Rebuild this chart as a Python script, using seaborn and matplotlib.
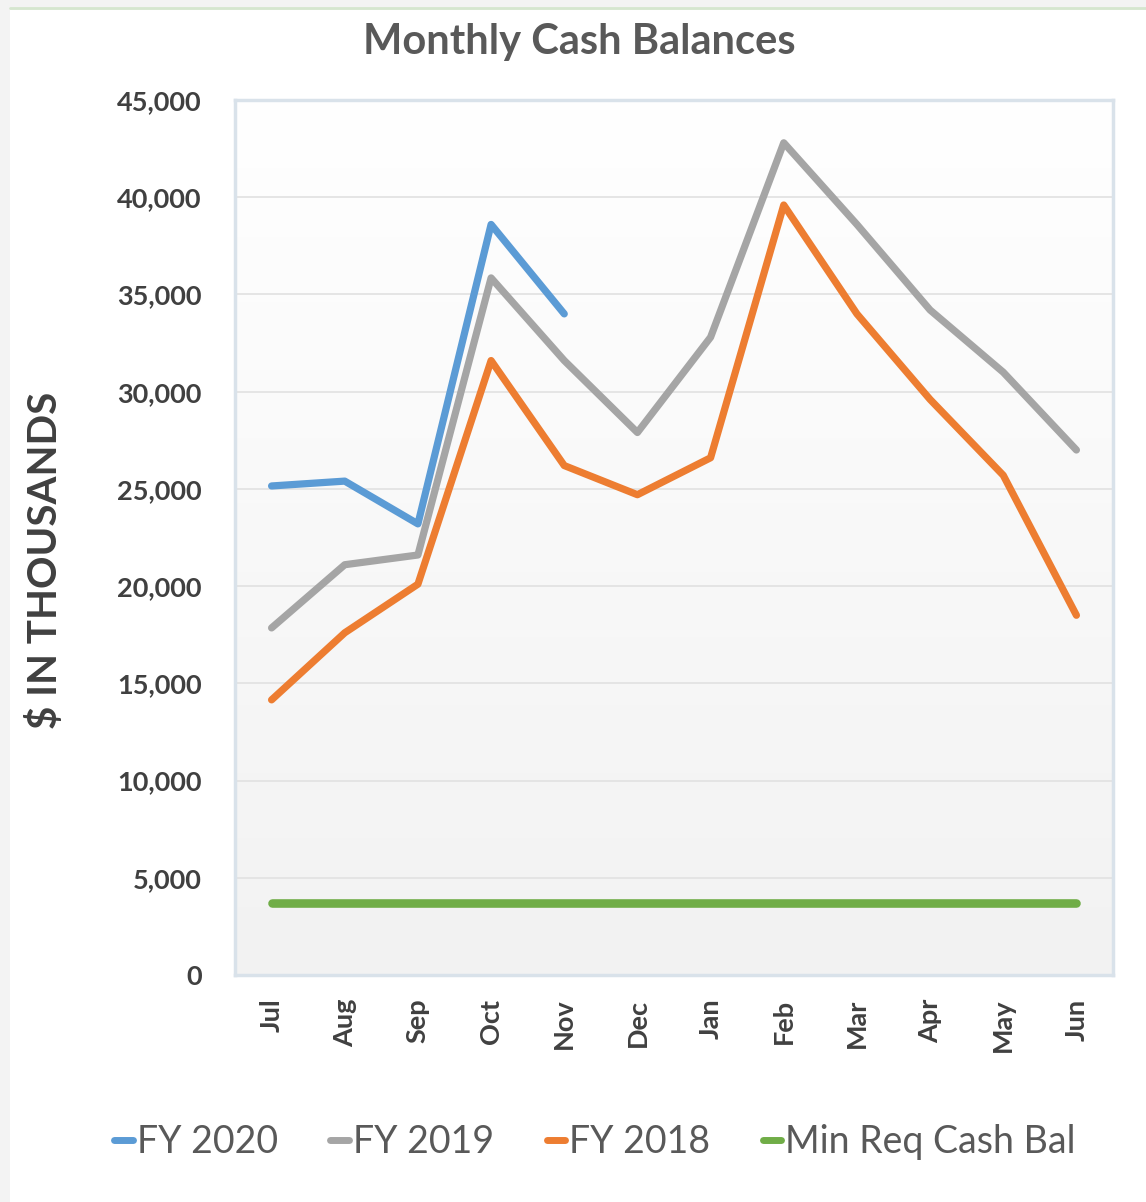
import numpy as np
import pandas as pd
import seaborn as sns
import matplotlib.pyplot as plt
from matplotlib.colors import LinearSegmentedColormap
from matplotlib.patches import Rectangle
from matplotlib.lines import Line2D
from matplotlib.ticker import FuncFormatter, MultipleLocator

# chart data, $ thousands
months = ["Jul", "Aug", "Sep", "Oct", "Nov", "Dec", "Jan", "Feb", "Mar", "Apr", "May", "Jun"]
fy2020 = [25150, 25400, 23200, 38600, 34000]
fy2019 = [17850, 21100, 21600, 35850, 31600, 27900, 32800, 42800, 38600, 34200, 31000, 27000]
fy2018 = [14150, 17600, 20100, 31600, 26200, 24700, 26600, 39600, 34000, 29600, 25700, 18500]
min_req = [3700] * 12
series_names = ["FY 2020", "FY 2019", "FY 2018", "Min Req Cash Bal"]
colors = ["#5b9bd5", "#a5a5a5", "#ed7d31", "#70ad47"]

rows = []
for name, vals in zip(series_names, [fy2020, fy2019, fy2018, min_req]):
    for i, v in enumerate(vals):
        rows.append({"pos": i, "month": months[i], "value": v, "series": name})
df = pd.DataFrame(rows)

sns.set_theme(style="white")
plt.rcParams['font.family'] = ['Lato', 'DejaVu Sans']

fig = plt.figure(figsize=(11.46, 12.02), dpi=100)
fig.patch.set_facecolor("#f3f3f3")
fig.patches.append(Rectangle((10 / 1146, 0), 1, 1 - 10 / 1202, transform=fig.transFigure,
                             facecolor="white", edgecolor="none", zorder=-10))
fig.lines.append(Line2D([10 / 1146, 1], [1 - 8 / 1202] * 2, transform=fig.transFigure,
                        color="#d5e6cf", lw=2, zorder=-5))

ax = fig.add_axes([235 / 1146, 1 - 975 / 1202, 878 / 1146, 875 / 1202])
ax.set_zorder(1)

# soft gradient like the office chart area
grad = np.linspace(1.0, 0.0, 256).reshape(-1, 1)
ax.imshow(grad, extent=[0, 1, 0, 1], transform=ax.transAxes, aspect="auto",
          cmap=LinearSegmentedColormap.from_list("g", ["#f2f2f2", "#ffffff"]), zorder=0)

sns.lineplot(data=df, x="pos", y="value", hue="series", hue_order=series_names,
             palette=colors, linewidth=5.2, sort=False, legend=False, ax=ax, zorder=3)
ax.lines[-1].set_linewidth(6.2)

ax.set_xlim(-0.5, 11.5)
ax.set_ylim(0, 45000)
ax.yaxis.set_major_locator(MultipleLocator(5000))
ax.yaxis.set_major_formatter(FuncFormatter(lambda v, p: f"{int(v):,}"))
ax.set_xticks(range(len(months)))
ax.set_xticklabels(months, rotation=90)
ax.grid(axis="y", color="#e3e3e3", lw=1.3, zorder=1)
ax.set_axisbelow(True)
for s in ax.spines.values():
    s.set_color("#d9e2ea")
    s.set_linewidth(2.5)
ax.tick_params(axis="both", length=0, labelsize=19.5, labelcolor="#404040")
ax.tick_params(axis="y", pad=24)
ax.tick_params(axis="x", pad=17)
for t in ax.get_xticklabels() + ax.get_yticklabels():
    t.set_fontweight("bold")
ax.set_xlabel("")
ax.set_ylabel("")

fig.text(579 / 1146, 1 - 42 / 1202, "Monthly Cash Balances", ha="center", va="center",
         fontsize=30, fontweight="bold", color="#595959")
fig.text(45 / 1146, 1 - 560 / 1202, "$ IN THOUSANDS", ha="center", va="center",
         rotation=90, fontsize=29, fontweight="bold", color="#404040")

handles = [Line2D([0], [0], color=c, lw=5) for c in colors]
fig.legend(handles, series_names, loc="center", bbox_to_anchor=(595 / 1146, 1 - 1142 / 1202),
           ncol=4, frameon=False, fontsize=27, handlelength=0.5, handletextpad=0.1,
           columnspacing=1.4, labelcolor="#595959")

fig.savefig("out.png", dpi=100, facecolor=fig.get_facecolor())
